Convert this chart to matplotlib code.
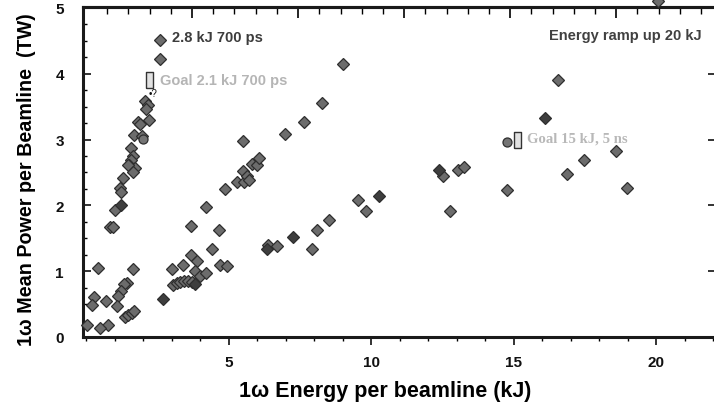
import matplotlib
matplotlib.use("Agg")
import matplotlib.pyplot as plt
from matplotlib.ticker import MultipleLocator, FixedLocator, NullFormatter

# Shot data: 1-omega energy per beamline (kJ) and mean power per beamline (TW)
energy_kj = [
    2.60, 2.60, 2.07, 2.16, 2.11, 1.84, 2.22, 1.89, 1.69, 1.98,
    1.58, 1.64, 1.58, 1.52, 1.72, 1.46, 1.66, 1.31, 1.19, 1.22,
    1.02, 0.84, 0.96, 0.43, 1.64, 1.43, 1.34, 1.23, 1.13, 0.28,
    0.22, 0.69, 1.09, 1.37, 1.48, 1.60, 1.68, 0.76, 0.50, 0.02,
    3.01, 3.39, 3.68, 3.88, 4.41, 3.82, 4.00, 4.20, 4.70, 3.06,
    3.18, 3.30, 3.44, 3.59, 3.73, 3.68, 4.20, 4.68, 4.94, 4.88,
    5.31, 5.52, 5.54, 5.64, 5.73, 5.81, 5.99, 6.07, 5.52, 6.98,
    7.65, 8.29, 9.03, 6.38, 6.69, 7.92, 8.12, 8.54, 9.55, 9.82,
    12.52, 13.04, 13.25, 12.78, 14.77, 16.88, 17.46, 18.60, 18.99, 16.55,
    20.08,
]
power_tw = [
    4.52, 4.22, 3.58, 3.53, 3.47, 3.27, 3.30, 3.23, 3.07, 3.05,
    2.87, 2.75, 2.69, 2.62, 2.57, 2.61, 2.51, 2.42, 2.27, 2.21,
    1.93, 1.67, 1.67, 1.05, 1.03, 0.82, 0.80, 0.70, 0.62, 0.61,
    0.49, 0.54, 0.47, 0.31, 0.34, 0.37, 0.39, 0.18, 0.13, 0.18,
    1.03, 1.10, 1.25, 1.15, 1.33, 1.00, 0.93, 0.98, 1.10, 0.79,
    0.82, 0.84, 0.85, 0.85, 0.84, 1.69, 1.97, 1.63, 1.08, 2.25,
    2.35, 2.53, 2.35, 2.45, 2.38, 2.63, 2.61, 2.72, 2.98, 3.09,
    3.26, 3.56, 4.15, 1.40, 1.39, 1.34, 1.63, 1.78, 2.08, 1.92,
    2.45, 2.54, 2.58, 1.91, 2.23, 2.47, 2.69, 2.83, 2.26, 3.91,
    5.11,
]

# Shots drawn in a darker shade
dark_energy_kj = [1.24, 2.71, 3.82, 6.34, 7.27, 10.28, 12.38, 16.09]
dark_power_tw = [2.00, 0.58, 0.81, 1.33, 1.52, 2.14, 2.54, 3.33]

# Round markers
round_energy_kj = [2.01, 14.77]
round_power_tw = [3.01, 2.96]

# Design goals
goal_energy_kj = [2.1, 15.0]
goal_power_tw = [3.9, 3.0]

x_ticks = [5, 10, 15, 20]
x_tick_labels = ["5", "10", "15", "20"]
y_ticks = [0, 1, 2, 3, 4, 5]
y_tick_labels = ["0", "1", "2", "3", "4", "5"]

plt.rcParams["font.family"] = ["Liberation Sans", "DejaVu Sans"]

fig = plt.figure(figsize=(7.14, 4.14), dpi=100)
W, H = 714.0, 414.0
left_px, right_px, top_px, bottom_px = 83.3, 716.0, 8.0, 338.0
ax = fig.add_axes([left_px / W, 1 - bottom_px / H,
                   (right_px - left_px) / W, (bottom_px - top_px) / H])

ax.set_xlim(-0.095, 22.1)
ax.set_ylim(0.0, 5.015)

diamond = dict(linestyle="none", marker="D", markersize=5.7,
               markeredgewidth=0.9, markeredgecolor="#2e2e2e")
ax.plot(energy_kj, power_tw, markerfacecolor="#6c6c6c", clip_on=False,
        zorder=3, **diamond)
ax.plot(dark_energy_kj, dark_power_tw, markerfacecolor="#3e3e3e",
        zorder=3, **diamond)
ax.plot(round_energy_kj, round_power_tw, linestyle="none", marker="o",
        markersize=6.5, markerfacecolor="#747474", markeredgecolor="#2e2e2e",
        markeredgewidth=0.9, zorder=3)

# Goal boxes: tall rectangles whose left edge sits at the goal energy
box = [(0, -1), (0.9, -1), (0.9, 1), (0, 1), (0, -1)]
ax.plot(goal_energy_kj, goal_power_tw, linestyle="none", marker=box,
        markersize=11.5, markerfacecolor="#e2e2e2", markeredgecolor="#333333",
        markeredgewidth=1.0, zorder=4)

# Annotations
ax.text(3.01, 4.56, "2.8 kJ 700 ps", fontsize=10.5, fontweight="bold",
        color="#3c3c3c", ha="left", va="center")
ax.text(2.60, 3.90, "Goal 2.1 kJ 700 ps", fontsize=10.5, fontweight="bold",
        color="#b5b5b5", ha="left", va="center")
ax.text(2.18, 3.71, "\u2022?", fontsize=7, color="#111111",
        ha="left", va="center")
ax.text(21.58, 4.59, "Energy ramp up 20 kJ", fontsize=10.5, fontweight="bold",
        color="#404040", ha="right", va="center")
ax.text(15.46, 3.03, "Goal 15 kJ, 5 ns", fontsize=10.6, fontweight="bold",
        family=["Liberation Serif", "DejaVu Serif"], color="#b8b8b8",
        ha="left", va="center")

# Axes styling
for side in ["left", "bottom", "top", "right"]:
    ax.spines[side].set_linewidth(2.2)
    ax.spines[side].set_color("#1a1a1a")

ax.xaxis.set_major_locator(FixedLocator(x_ticks))
ax.set_xticklabels(x_tick_labels)
ax.xaxis.set_minor_locator(MultipleLocator(1))
ax.yaxis.set_major_locator(FixedLocator(y_ticks))
ax.set_yticklabels(y_tick_labels)
ax.yaxis.set_minor_locator(MultipleLocator(0.25))

ax.tick_params(axis="x", which="major", direction="out", length=6, width=1.2,
               pad=7, labelsize=11, colors="#111111")
ax.tick_params(axis="x", which="minor", direction="out", length=3, width=1.0)
ax.tick_params(axis="y", which="major", direction="in", length=6, width=1.2,
               pad=14, labelsize=11, colors="#111111", right=True)
ax.tick_params(axis="y", which="minor", direction="in", length=3, width=1.0,
               left=True, right=False)
for lab in ax.get_xticklabels() + ax.get_yticklabels():
    lab.set_fontweight("bold")

# Independent tick marks along the top edge
top = ax.secondary_xaxis("top")
top.xaxis.set_major_locator(FixedLocator([3.72 * k for k in range(1, 6)]))
top.xaxis.set_minor_locator(FixedLocator([0.744 * k for k in range(1, 30)]))
top.xaxis.set_major_formatter(NullFormatter())
top.tick_params(which="major", direction="in", length=8, width=1.2)
top.tick_params(which="minor", direction="in", length=5, width=1.0)
top.spines["top"].set_linewidth(2.2)

ax.set_xlabel("1\u03c9 Energy per beamline (kJ)", fontsize=15.5,
              fontweight="bold")
ax.set_ylabel("1\u03c9 Mean Power per Beamline  (TW)", fontsize=14.2,
              fontweight="bold")
ax.xaxis.set_label_coords(0.477, -0.130)
ax.yaxis.set_label_coords(-0.075, 0.479)

fig.savefig("out.png", dpi=100)
